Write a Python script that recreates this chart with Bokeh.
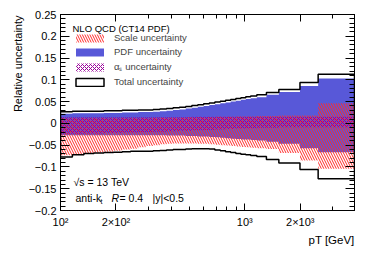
from bokeh.plotting import figure
from bokeh.models import (FixedTicker, LinearAxis, LogAxis, Label, Legend,
                          LegendItem, Range1d, Title)
from bokeh.embed import file_html
from bokeh.resources import INLINE

# ---- data ----
edges = [100, 116, 134, 152, 172, 194, 216, 240, 264, 290, 318, 346, 376, 408,
         442, 478, 516, 556, 598, 642, 688, 736, 786, 838, 894, 952, 1012,
         1076, 1162, 1310, 1530, 1992, 2500, 3937]

total_up = [0.027, 0.028, 0.028, 0.028, 0.029, 0.029, 0.030, 0.030, 0.031, 0.031,
            0.032, 0.033, 0.034, 0.036, 0.037, 0.039, 0.041, 0.043, 0.045, 0.047,
            0.049, 0.051, 0.053, 0.055, 0.057, 0.059, 0.061, 0.063, 0.066, 0.071,
            0.078, 0.094, 0.113]
total_dn = [-0.077, -0.072, -0.069, -0.068, -0.067, -0.066, -0.065, -0.064, -0.064,
            -0.064, -0.063, -0.062, -0.061, -0.060, -0.060, -0.059, -0.058, -0.058,
            -0.058, -0.059, -0.061, -0.063, -0.065, -0.067, -0.069, -0.071, -0.072,
            -0.074, -0.076, -0.083, -0.091, -0.106, -0.127]

pdf_up = [0.022, 0.023, 0.023, 0.023, 0.024, 0.024, 0.025, 0.025, 0.026, 0.026,
          0.027, 0.028, 0.029, 0.031, 0.032, 0.034, 0.036, 0.038, 0.040, 0.042,
          0.044, 0.046, 0.048, 0.050, 0.052, 0.054, 0.056, 0.058, 0.060, 0.066,
          0.072, 0.086, 0.103]
pdf_dn = [-0.027, -0.027, -0.027, -0.027, -0.027, -0.027, -0.027, -0.027, -0.027,
          -0.027, -0.027, -0.027, -0.028, -0.028, -0.028, -0.029, -0.029, -0.030,
          -0.030, -0.031, -0.032, -0.033, -0.034, -0.035, -0.036, -0.037, -0.037,
          -0.038, -0.039, -0.042, -0.047, -0.057, -0.066]

scale_up = [0.012, 0.012, 0.012, 0.012, 0.012, 0.012, 0.012, 0.012, 0.012, 0.012,
            0.013, 0.013, 0.013, 0.013, 0.013, 0.014, 0.014, 0.014, 0.014, 0.014,
            0.015, 0.015, 0.015, 0.015, 0.016, 0.016, 0.016, 0.016, 0.017, 0.017,
            0.018, 0.018, 0.046]
scale_dn = [-0.073, -0.071, -0.069, -0.067, -0.065, -0.063, -0.060, -0.058, -0.055,
            -0.052, -0.050, -0.048, -0.047, -0.046, -0.046, -0.046, -0.046, -0.047,
            -0.047, -0.048, -0.049, -0.050, -0.051, -0.052, -0.053, -0.054, -0.055,
            -0.056, -0.057, -0.059, -0.068, -0.085, -0.104]

alphas_up = [0.014, 0.014, 0.014, 0.014, 0.014, 0.014, 0.014, 0.014, 0.014, 0.014,
             0.014, 0.014, 0.014, 0.014, 0.014, 0.014, 0.015, 0.015, 0.015, 0.015,
             0.015, 0.015, 0.015, 0.015, 0.015, 0.015, 0.015, 0.015, 0.015, 0.015,
             0.015, 0.015, 0.015]
alphas_dn = [-0.024, -0.024, -0.023, -0.023, -0.022, -0.022, -0.021, -0.021, -0.020,
             -0.020, -0.019, -0.019, -0.018, -0.018, -0.017, -0.017, -0.016, -0.016,
             -0.015, -0.015, -0.014, -0.014, -0.013, -0.013, -0.012, -0.012, -0.011,
             -0.011, -0.010, -0.010, -0.009, -0.009, -0.009]

y_ticks = [-0.2, -0.15, -0.1, -0.05, 0.0, 0.05, 0.1, 0.15, 0.2, 0.25]
y_labels = ["\u22120.2", "\u22120.15", "\u22120.1", "\u22120.05", "0", "0.05",
            "0.1", "0.15", "0.2", "0.25"]
x_ticks = [100, 200, 1000, 2000]
x_labels = ["10\u00b2", "2\u00d710\u00b2", "10\u00b3", "2\u00d710\u00b3"]
x_minor = [300, 400, 500, 600, 700, 800, 900, 3000]

FONT = "Liberation Sans"


def band(lo, hi):
    xs, ys = [], []
    for i in range(len(hi)):
        xs += [edges[i], edges[i + 1]]
        ys += [hi[i], hi[i]]
    for i in reversed(range(len(lo))):
        xs += [edges[i + 1], edges[i]]
        ys += [lo[i], lo[i]]
    return xs, ys


p = figure(width=370, height=248, x_axis_type="log",
           x_range=Range1d(edges[0], edges[-1]), y_range=Range1d(-0.2, 0.25),
           output_backend="svg", toolbar_location=None,
           min_border_left=60, min_border_right=16, min_border_top=14,
           min_border_bottom=38)
p.grid.visible = False
p.outline_line_color = "black"
p.outline_line_width = 1
p.background_fill_color = "white"
p.border_fill_color = "white"

xs, ys = band(pdf_dn, pdf_up)
r_pdf = p.patch(xs, ys, fill_color="#5858d8", line_color=None)
xs, ys = band(scale_dn, scale_up)
r_scale = p.patch(xs, ys, fill_alpha=0, line_color=None,
                  hatch_pattern="left_diagonal_line", hatch_color="#ff2a2a",
                  hatch_scale=5, hatch_weight=1)
xs, ys = band(alphas_dn, alphas_up)
r_as = p.patch(xs, ys, fill_alpha=0, line_color=None,
               hatch_pattern="diagonal_cross", hatch_color="#990099",
               hatch_scale=4, hatch_weight=1)
xs, ys = band(total_dn, total_up)
r_tot = p.patch(xs, ys, fill_alpha=0, line_color="black", line_width=1.5)

y_minor = [round(-0.2 + 0.01 * k, 2) for k in range(46)]

# axes
yax = p.yaxis[0]
yax.ticker = FixedTicker(ticks=y_ticks, minor_ticks=y_minor)
yax.major_label_overrides = dict(zip(y_ticks, y_labels))
xax = p.xaxis[0]
xax.ticker = FixedTicker(ticks=x_ticks, minor_ticks=x_minor)
xax.major_label_overrides = dict(zip(x_ticks, x_labels))

for ax in (xax, yax):
    ax.major_label_text_font = FONT
    ax.major_label_text_font_size = "11px"
    ax.major_label_text_color = "black"
    ax.axis_line_color = "black"
    ax.major_tick_out = 0
    ax.minor_tick_out = 0
    ax.major_tick_line_color = "black"
    ax.minor_tick_line_color = "black"
yax.major_tick_in = 9
yax.minor_tick_in = 5
yax.major_label_standoff = 4
xax.major_tick_in = 7
xax.minor_tick_in = 4
xax.major_label_standoff = 5

# mirror axes (ticks only, no labels)
top = LogAxis(ticker=FixedTicker(ticks=x_ticks, minor_ticks=x_minor))
top.major_label_overrides = {t: "" for t in x_ticks}
right = LinearAxis(ticker=FixedTicker(ticks=y_ticks, minor_ticks=y_minor))
right.major_label_overrides = {t: "" for t in y_ticks}
for ax, (mj, mn) in ((top, (7, 4)), (right, (9, 5))):
    ax.major_label_text_font_size = "0px"
    ax.major_label_standoff = 0
    ax.major_tick_out = 0
    ax.minor_tick_out = 0
    ax.major_tick_in = mj
    ax.minor_tick_in = mn
    ax.axis_line_color = "black"
p.add_layout(top, "above")
p.add_layout(right, "right")

# axis titles
p.add_layout(Title(text="Relative uncertainty", align="right", offset=1,
                   standoff=4, text_font=FONT, text_font_size="11px",
                   text_font_style="normal", text_color="black"), "left")
p.add_layout(Title(text="pT [GeV]", align="right", offset=0, standoff=2,
                   text_font=FONT, text_font_size="11.5px",
                   text_font_style="normal", text_color="black"), "below")

legend = Legend(items=[
    LegendItem(label="Scale uncertainty", renderers=[r_scale]),
    LegendItem(label="PDF uncertainty", renderers=[r_pdf]),
    LegendItem(label="\u03b1\u209b uncertainty", renderers=[r_as]),
    LegendItem(label="Total uncertainty", renderers=[r_tot]),
], location=(12, 123), orientation="vertical")
legend.label_text_font = FONT
legend.label_text_font_size = "9.5px"
legend.glyph_width = 35
legend.glyph_height = 10
legend.label_height = 10
legend.spacing = 3
legend.padding = 0
legend.margin = 0
legend.label_standoff = 7
legend.border_line_color = None
legend.background_fill_alpha = 0
p.add_layout(legend)


def lab(text, x, y, size="10.5px", style="normal"):
    p.add_layout(Label(x=x, y=y, x_units="screen", y_units="screen", text=text,
                       text_font=FONT, text_font_size=size, text_align="left",
                       text_baseline="middle", text_font_style=style,
                       text_color="black"))


lab("NLO QCD (CT14 PDF)", 12, 182, size="9.5px")
lab("\u221as = 13 TeV", 13, 29)
lab("anti-k", 15, 13)
lab("t", 40, 9, size="7px")
lab("R", 51, 13, style="italic")
lab("= 0.4", 59, 13)
lab("|y|<0.5", 92, 13)

open("out.html", "w").write(file_html(p, INLINE))
